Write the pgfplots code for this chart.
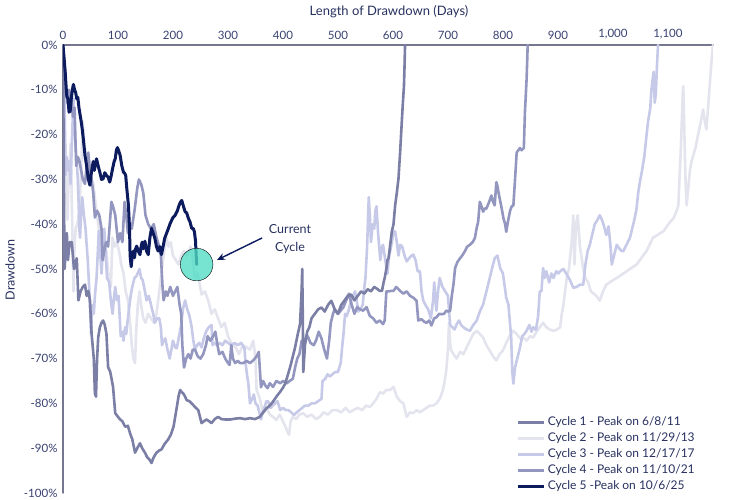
\documentclass[border=0pt]{standalone}
\usepackage{fontspec}
\setmainfont{Lato}
\usepackage{pgfplots}
\pgfplotsset{compat=1.18}
\usetikzlibrary{arrows.meta}
\definecolor{cA}{HTML}{7B7EA5}
\definecolor{cB}{HTML}{E3E4EE}
\definecolor{cC}{HTML}{C6C9E8}
\definecolor{cD}{HTML}{9396BF}
\definecolor{cE}{HTML}{0C1A5E}
\definecolor{txt}{HTML}{27305F}
\definecolor{tk}{HTML}{394170}
\definecolor{axl}{HTML}{74778F}
\definecolor{hl}{HTML}{4FDDC3}
\begin{document}
\begin{tikzpicture}[x=1pt,y=1pt]
\path[use as bounding box] (0,0) rectangle (750,500);
\begin{axis}[at={(63pt,7pt)}, anchor=south west, scale only axis,
  width=650pt, height=448pt,
  xmin=0, xmax=1182, ymin=-100, ymax=0,
  axis x line*=top, axis y line*=left,
  axis line style={axl, line width=1.4pt, -},
  xtick={0,100,200,300,400,500,600,700,800,900,1000,1100},
  xticklabels={0,100,200,300,400,500,600,700,800,900,{1,000},{1,100}},
  ytick={-100,-90,-80,-70,-60,-50,-40,-30,-20,-10,0},
  yticklabels={-100\%,-90\%,-80\%,-70\%,-60\%,-50\%,-40\%,-30\%,-20\%,-10\%,0\%},
  tick style={draw=none},
  xticklabel style={font=\fontsize{11.5}{13}\selectfont, text=tk, yshift=2pt},
  yticklabel style={font=\fontsize{11.5}{13}\selectfont, text=tk, xshift=-2pt},
  legend style={at={(0.6935,0.179)}, anchor=north west, draw=none, fill=none,
    font=\fontsize{12}{13}\selectfont, text=txt, row sep=1.7pt,
    /tikz/every even column/.append style={column sep=0pt}},
  legend cell align=left,
  legend image code/.code={\draw[#1] (0pt,0pt) -- (26pt,0pt);},
  line join=round, line cap=round,
]
\addlegendimage{cA, line width=2.8pt}
\addlegendentry{Cycle 1 - Peak on 6/8/11}
\addlegendimage{cB, line width=2.8pt}
\addlegendentry{Cycle 2 - Peak on 11/29/13}
\addlegendimage{cC, line width=2.8pt}
\addlegendentry{Cycle 3 - Peak on 12/17/17}
\addlegendimage{cD, line width=2.8pt}
\addlegendentry{Cycle 4 - Peak on 11/10/21}
\addlegendimage{cE, line width=2.8pt}
\addlegendentry{Cycle 5 -Peak on 10/6/25}

% Cycle 2
\addplot[cB, line width=2.6pt, forget plot] coordinates {
(0,0) (2,-12) (4,-25) (6,-33) (8,-39) (10,-31) (12,-26) (14,-22) (16,-35) (18,-48) (19,-55) (21,-45) (23,-41) (26,-40) (30,-37) (33,-28) (36,-17) (39,-22) (42,-25) (45,-28) (49,-26) (52,-30) (55,-31) (58,-34) (62,-38) (65,-41) (68,-45) (71,-43) (75,-48) (79,-46) (83,-52) (87,-54) (90,-43) (94,-45) (98,-44) (102,-46) (106,-49) (110,-51) (114,-55) (118,-57) (122,-62) (125,-67) (128,-70) (131,-71) (133,-64) (136,-58) (139,-55) (142,-58) (146,-61) (150,-62) (155,-60) (160,-61) (165,-62) (170,-60) (175,-55) (180,-50) (184,-46) (188,-43) (192,-45) (196,-44) (200,-47) (205,-48) (210,-49) (215,-47) (220,-46) (226,-47) (232,-45) (236,-48) (240,-52) (245,-51) (252,-55.7) (258,-55) (264,-57) (270,-60) (276,-59) (282,-61) (288,-63) (294,-62) (300,-65) (307,-66.8) (314,-67.5) (320,-69) (327,-67) (334,-67.5) (340,-68) (346,-66) (350,-70) (352,-77) (358,-79) (364,-82.2) (370,-81) (376,-82.5) (382,-83) (388,-83.7) (394,-82.5) (400,-84) (404,-85) (407,-86) (411,-87) (414,-84) (418,-83) (424,-83.5) (430,-82.5) (437,-82.2) (444,-83) (452,-82.5) (460,-83.5) (467,-83) (474,-82) (482,-82.5) (490,-81.5) (498,-81.5) (506,-82) (514,-81) (521,-82) (528,-81.5) (536,-81) (544,-81.5) (551,-80.5) (558,-80.8) (564,-80) (570,-79) (576,-77.5) (582,-77.8) (588,-77) (595,-77) (601,-76.3) (607,-78.5) (613,-79.5) (619,-80) (625,-83) (631,-82) (637,-82.2) (643,-81.5) (649,-82) (655,-81.5) (661,-81) (667,-80.5) (673,-80.5) (679,-80) (685,-79) (691,-77) (694,-75) (697,-72.6) (700,-68) (702,-62) (704,-66.8) (706,-68.2) (710,-69) (716,-70) (722,-68.5) (728,-69) (734,-67.5) (740,-66) (746,-64.5) (752,-63.8) (758,-64.5) (764,-65.3) (770,-67) (776,-68.2) (782,-69.5) (788,-70.4) (794,-69) (800,-68.2) (806,-66.5) (812,-65) (819,-63.8) (825,-64.5) (831,-65.5) (837,-65.3) (843,-66) (849,-65) (855,-65.3) (861,-64) (867,-63) (873,-62) (879,-63) (885,-63.5) (892,-63.8) (898,-63.5) (904,-63) (907,-60) (910,-58) (913,-55) (916,-52) (920,-50) (925,-44) (928,-38) (930,-49) (933,-40) (936,-38) (940,-45) (946,-50) (950,-52) (955,-53) (960,-55) (965,-55.5) (970,-56) (976,-57.1) (982,-55) (988,-53.5) (994,-53) (1000,-52.5) (1007,-52) (1013,-51.5) (1019,-51) (1025,-50.5) (1031,-50) (1037,-49.5) (1043,-49) (1049,-48) (1055,-47) (1061,-46) (1067,-44.5) (1073,-43) (1080,-42.5) (1086,-42) (1092,-41.6) (1098,-40.5) (1104,-39.5) (1110,-38.7) (1116,-37) (1119,-35.8) (1121,-30) (1123,-24.7) (1125,-18) (1127,-11) (1128,-9.2) (1130,-20) (1132,-30) (1134,-35.8) (1137,-32) (1140,-28) (1143,-26) (1146,-24.7) (1150,-23) (1155,-20) (1160,-17) (1164,-14.4) (1167,-17) (1170,-18.8) (1173,-14) (1176,-9) (1179,-4) (1182,0)
};
% Cycle 3
\addplot[cC, line width=2.6pt, forget plot] coordinates {
(0,0) (2,-8) (3,-15) (5,-29) (7,-25) (9,-28) (11,-26) (14,-31) (16,-22) (19,-12) (21,-18) (23,-23) (25,-26) (27,-30) (30,-41.5) (31,-43) (33,-37) (35,-34) (38,-38) (41,-41) (45,-48) (48,-55) (51,-64.5) (53,-58) (56,-60) (58,-56) (61,-52) (63,-47) (65,-41.5) (68,-47) (70,-51) (73,-45) (75,-41) (78,-47) (80,-52) (84,-53) (87,-57) (90,-60) (93,-56) (95,-54) (98,-57) (101,-56) (105,-65) (108,-64) (110,-66) (113,-63) (115,-64.5) (118,-61) (120,-59) (123,-56) (126,-54) (130,-52) (134,-51.5) (139,-50) (142,-52) (145,-52.5) (149,-55) (152,-57) (156,-56) (160,-58) (164,-60) (167,-62) (171,-61) (175,-61) (178,-63) (180,-67) (183,-66) (186,-65.5) (190,-68) (194,-70) (197,-68) (200,-66) (204,-67.5) (207,-67.7) (211,-65) (215,-62.5) (218,-59) (222,-57) (226,-59) (230,-60.5) (234,-63) (237,-66) (240,-68) (244,-67) (248,-66.5) (252,-67.5) (256,-65.5) (260,-64) (265,-63) (270,-62.5) (272,-67) (276,-66.5) (280,-67) (285,-66.5) (290,-67) (295,-66) (300,-66.5) (306,-67) (312,-66.5) (318,-67) (324,-66.5) (330,-67.7) (332,-71) (335,-74) (337,-75.5) (340,-80) (344,-79) (347,-78) (350,-80) (354,-80.5) (357,-82) (360,-83.6) (363,-82) (366,-81) (370,-79.5) (373,-79.5) (377,-81) (381,-80.5) (386,-80) (390,-79.5) (395,-81.5) (400,-81) (405,-81.5) (410,-81.5) (415,-82) (420,-82.6) (425,-82) (430,-81.5) (435,-81) (440,-80.5) (446,-80.5) (452,-80) (458,-80) (464,-79.5) (470,-79) (472,-75) (477,-74.5) (481,-73.5) (485,-74) (490,-73.5) (495,-73) (500,-73) (505,-71) (508,-67) (510,-64.6) (513,-60) (516,-60.5) (520,-59) (524,-57) (528,-56) (531,-55) (534,-57) (537,-59.5) (541,-59) (545,-58) (548,-54) (550,-52) (553,-45) (556,-34) (558,-38) (560,-44) (563,-40) (566,-41) (568,-37) (570,-36) (573,-42) (577,-48) (580,-45) (582,-44.6) (586,-48) (590,-51) (593,-47) (595,-46) (598,-44) (601,-41.6) (604,-41.6) (607,-44) (610,-47) (613,-44.6) (617,-45) (621,-47) (625,-48.3) (630,-47.5) (634,-47) (637,-46.8) (641,-48) (645,-50.5) (649,-50.5) (652,-55) (655,-57) (659,-58) (664,-59) (669,-61) (673,-57) (675,-53) (679,-59.3) (682,-55) (685,-52) (690,-54) (695,-55) (700,-56) (704,-62.5) (708,-63) (712,-63.5) (716,-62.3) (720,-61.5) (724,-62.5) (728,-63) (734,-63.5) (740,-63.8) (746,-62.5) (752,-61.6) (758,-59.5) (764,-57.9) (770,-55) (776,-52) (780,-50) (785,-47.6) (790,-47) (795,-49.8) (800,-51) (806,-56.4) (810,-58) (815,-65.3) (817,-73) (819,-75.6) (822,-72) (826,-70) (831,-67.5) (835,-65) (839,-64.5) (843,-63.8) (848,-62.5) (852,-64) (855,-63) (860,-63.6) (864,-60.5) (867,-55) (870,-55) (873,-49.8) (876,-52) (879,-50.5) (884,-53) (888,-51) (892,-52) (897,-50.5) (901,-51) (904,-50.5) (910,-50) (916,-51.2) (922,-52.5) (928,-54.2) (934,-54) (940,-53.5) (946,-53.5) (950,-49) (954,-46) (958,-44.6) (962,-42.5) (967,-40) (972,-39) (976,-38) (980,-39) (984,-40.5) (988,-42.4) (992,-40.5) (995,-44) (998,-49) (1002,-47) (1007,-44.6) (1012,-45.5) (1016,-46) (1019,-46) (1023,-45) (1027,-44) (1031,-43) (1035,-41) (1039,-39) (1043,-36.5) (1046,-33) (1049,-30.6) (1053,-28) (1057,-25) (1061,-20.3) (1064,-17) (1068,-14) (1070,-10) (1072,-8) (1074,-6) (1076,-12.9) (1078,-11) (1080,-5) (1082,0)
};
% Cycle 4
\addplot[cD, line width=2.6pt, forget plot] coordinates {
(0,0) (3,-5) (6,-11) (8,-13) (11,-10) (15,-12) (18,-16) (21,-14) (24,-27) (27,-25) (30,-26) (33,-28) (36,-30) (40,-31) (43,-27) (46,-24) (49,-28) (52,-30) (55,-33) (58,-38.5) (62,-37) (66,-38) (70,-41) (72,-48) (75,-46) (78,-44) (82,-45) (85,-40) (88,-35) (91,-36) (95,-38) (100,-44) (104,-42) (108,-44) (112,-35) (115,-38) (118,-42) (122,-40) (125,-41) (130,-37) (135,-32) (138,-30) (142,-31) (146,-33) (150,-38) (155,-40) (160,-41) (165,-40) (170,-43) (175,-45) (178,-47) (181,-54) (183,-57) (187,-55) (190,-56) (195,-54) (200,-56) (204,-55) (208,-54) (212,-58) (215,-60) (217,-67) (220,-72) (224,-70) (228,-69) (232,-70) (236,-68) (240,-68) (245,-69.5) (250,-70) (255,-69) (260,-67) (263,-65) (268,-66) (273,-65) (277,-64) (281,-67) (284,-69) (290,-68.5) (295,-70) (300,-71) (303,-71.4) (306,-67) (309,-70) (313,-71) (318,-70.5) (322,-71) (328,-71) (334,-70.5) (340,-71) (346,-70.4) (352,-69.5) (356,-68.5) (360,-76.4) (364,-75) (368,-76) (372,-76.6) (376,-75.5) (382,-76.3) (388,-75) (395,-75.5) (400,-75) (407,-75.5) (412,-75) (418,-74.5) (422,-72) (426,-70) (430,-69) (434,-66) (440,-66) (445,-65) (450,-66.5) (456,-67) (460,-66) (465,-64) (470,-65.5) (475,-68) (480,-70) (484,-66) (487,-62) (491,-60) (494,-59) (500,-60) (505,-59.3) (510,-58.5) (515,-57) (520,-55.5) (525,-58) (530,-60) (535,-58.5) (540,-59) (546,-59.3) (552,-58.5) (558,-60.5) (564,-61) (570,-62) (576,-61.5) (582,-62.3) (585,-61.5) (588,-55) (592,-55) (596,-54.9) (601,-54.9) (606,-54) (613,-54.9) (619,-55.5) (625,-55) (631,-56) (637,-56.4) (643,-57.1) (646,-61.5) (652,-61.2) (657,-61.8) (661,-62) (666,-61.5) (670,-62.6) (675,-61) (679,-60.8) (684,-60) (688,-60.1) (693,-60) (697,-59.3) (701,-59.5) (704,-59.3) (707,-56) (710,-53.5) (713,-49.8) (717,-48.5) (722,-47.6) (726,-47) (731,-46) (735,-45) (740,-44.6) (745,-44) (749,-43.1) (752,-41) (755,-39.4) (758,-35) (761,-36) (764,-37.2) (767,-36.5) (770,-36.5) (775,-35) (779,-33.6) (782,-35) (785,-35.8) (788,-30.6) (790,-31.5) (793,-33.6) (797,-36) (801,-38.7) (804,-40) (806,-41.7) (809,-39.5) (813,-37) (816,-36) (819,-35.8) (822,-30) (825,-24) (828,-23.5) (831,-23) (834,-23.5) (838,-23) (840,-15) (843,-7.7) (844,-4) (845,0)
};
% Cycle 1
\addplot[cA, line width=2.6pt, forget plot] coordinates {
(0,0) (1,-20) (2,-38) (3,-50) (5,-45) (7,-42) (9,-48) (12,-44) (16,-44) (20,-50) (25,-47.6) (28,-57) (32,-55) (36,-54) (40,-53.5) (43,-56) (46,-54.9) (49,-57) (52,-64.5) (56,-70) (58,-77.8) (60,-78.5) (62,-70) (64,-65.3) (67,-63) (70,-62) (73,-61.5) (76,-62.5) (79,-64.5) (82,-71.9) (86,-73) (91,-76.3) (95,-82.2) (100,-83) (104,-83.6) (108,-84) (113,-85.2) (118,-85) (122,-86.7) (126,-88) (131,-91) (135,-90) (140,-88.9) (144,-90) (149,-91) (153,-92) (157,-92.5) (161,-93.3) (165,-92) (170,-91) (175,-90.5) (179,-90.3) (185,-89) (191,-88.1) (196,-87) (201,-85.2) (204,-83) (207,-80.8) (210,-78.5) (213,-77) (216,-77.5) (219,-77.8) (222,-78.5) (225,-79.3) (230,-79.5) (234,-80) (240,-80.8) (246,-81.5) (249,-83) (252,-84.4) (256,-84) (261,-83.6) (266,-84) (270,-84.4) (276,-83.5) (282,-83) (288,-83.5) (295,-83.6) (304,-83.6) (313,-83.4) (322,-83.3) (331,-83.5) (340,-83.3) (349,-83.5) (358,-83) (364,-82) (370,-81.1) (376,-80.5) (382,-79.6) (388,-78.5) (395,-77.4) (400,-76.5) (404,-75.6) (408,-74) (413,-71.9) (418,-69.5) (422,-67.5) (427,-64.5) (431,-62.3) (434,-54.6) (435,-50) (436,-60) (437,-73) (440,-67) (444,-64) (448,-63) (452,-61) (458,-60) (464,-59) (470,-58.6) (476,-59.5) (482,-58) (488,-57.1) (494,-59) (500,-60) (506,-58) (512,-57) (518,-56) (524,-55.7) (530,-57) (536,-56) (542,-55) (548,-55.5) (554,-54.5) (560,-55) (566,-54) (572,-54.5) (576,-54.9) (580,-54.9) (583,-53) (585,-52) (588,-50) (590,-48) (592,-47.6) (595,-44.6) (598,-41.6) (601,-40) (604,-35.8) (607,-33) (610,-29.9) (613,-24) (616,-17.3) (618,-13) (620,-9.2) (621,-5) (622,0)
};
% Cycle 5
\addplot[cE, line width=3pt, forget plot] coordinates {
(0,0) (2,-3) (4,-6) (6,-10) (7,-11.5) (9,-12) (11,-15) (13,-14.8) (15,-12) (17,-10) (19,-8.8) (21,-10) (23,-10.6) (25,-12) (27,-11.7) (29,-14) (31,-15.5) (33,-17) (35,-18.8) (37,-21) (40,-24.7) (43,-27) (46,-29.9) (49,-31.3) (51,-29) (53,-27.5) (55,-26) (57,-28) (59,-26.5) (61,-25.4) (64,-27) (67,-28.4) (70,-30) (73,-29.9) (76,-28.5) (79,-29.1) (82,-29.5) (85,-30.6) (88,-29) (90,-27.7) (93,-26) (95,-25.4) (97,-23.5) (99,-22.9) (101,-23.5) (104,-24.7) (107,-27) (110,-28.4) (112,-28.6) (114,-29.1) (116,-32) (119,-35.8) (121,-41) (122,-47) (124,-49.5) (126,-47) (128,-46) (130,-47.5) (132,-45.5) (134,-44.9) (137,-46) (140,-46.8) (142,-45) (144,-44) (146,-45.5) (149,-43.8) (152,-46) (155,-46.8) (158,-43) (161,-40.9) (164,-42) (167,-43.1) (170,-45) (173,-46) (176,-45) (179,-46.8) (182,-45) (185,-43.1) (190,-41.5) (195,-39.8) (200,-38.5) (204,-38) (208,-37) (211,-35.8) (214,-35) (216,-34.7) (219,-36) (222,-37.2) (225,-37.5) (228,-38.7) (231,-39.5) (234,-40.9) (237,-41) (239,-41.7) (241,-43.8) (242,-46.5) (243,-49)
};
% highlight of the current cycle end
\addplot[only marks, mark=*, mark size=16.3pt, mark options={draw=none, fill=hl, fill opacity=0.78}, forget plot] coordinates {(243,-49)};
\end{axis}
% titles and annotation
\node[font=\fontsize{13}{15}\selectfont, text=txt] at (389,488) {Length of Drawdown (Days)};
\node[font=\fontsize{12.5}{14}\selectfont, text=txt, rotate=90] at (10,230) {Drawdown};
\node[font=\fontsize{12.5}{17.5}\selectfont, text=txt, align=center] at (290,261) {Current\\Cycle};
\draw[-{Stealth[length=8pt,width=7pt]}, cE, line width=1.4pt] (262,262) -- (217,240);
\end{tikzpicture}
\end{document}
